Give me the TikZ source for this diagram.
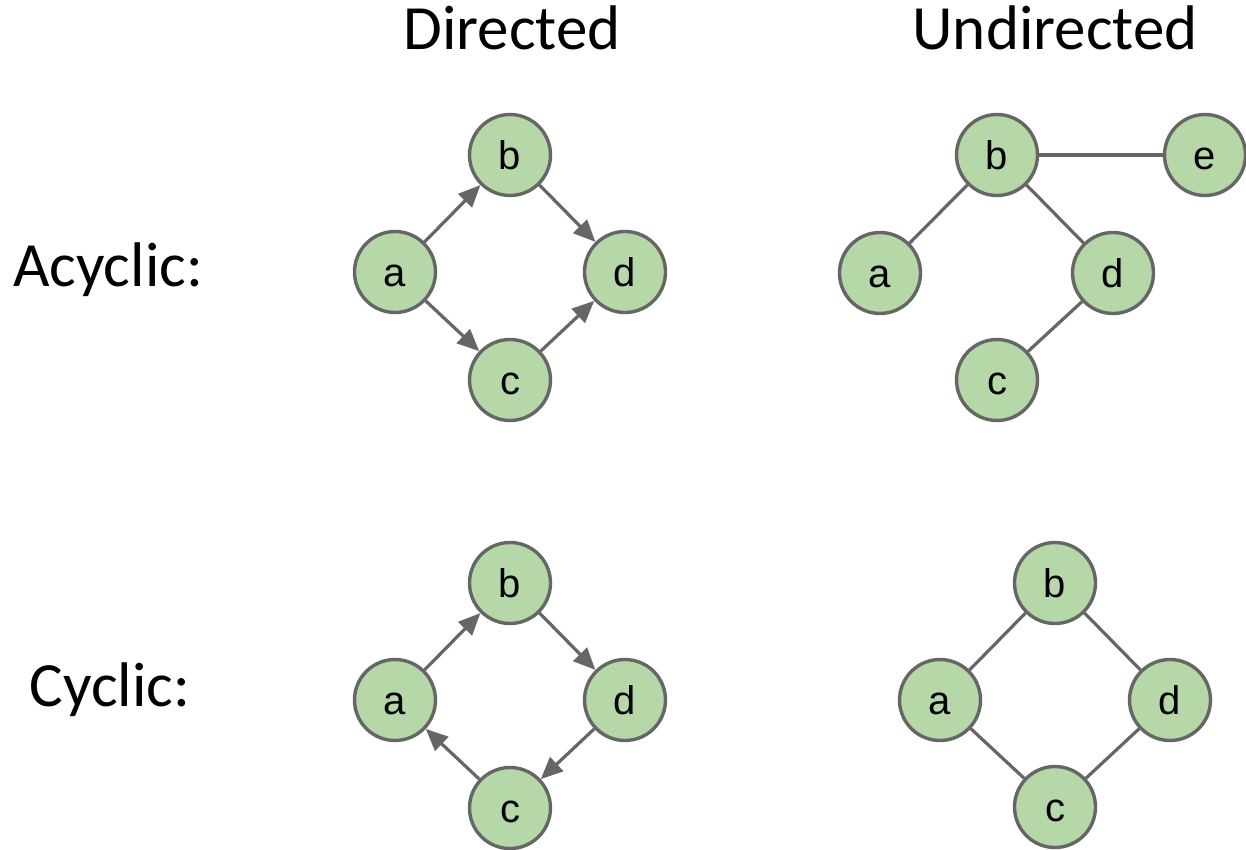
\documentclass[tikz,border=0pt]{standalone}
\usepackage{fontspec}
\setmainfont{Liberation Sans}
\newfontfamily\headfont{Carlito}
\usetikzlibrary{arrows.meta}
\definecolor{edgegray}{HTML}{666666}
\definecolor{nodegreen}{HTML}{B6D7A8}
\begin{document}
\begin{tikzpicture}[x=0.5pt,y=-0.5pt,
  vert/.style={circle,draw=edgegray,fill=nodegreen,line width=1.7pt,
    minimum size=40.5pt,inner sep=0pt,text height=14.4pt,text depth=0pt,
    font=\fontsize{20}{22}\selectfont},
  edge/.style={draw=edgegray,line width=1.6pt},
  arc/.style={edge,-{Triangle[length=11pt,width=9.5pt]}},
  head/.style={font=\headfont\fontsize{31.5}{36}\selectfont}]
\useasboundingbox (0,0) rectangle (1246,850);

% column and row headings
\node[head] (tdir) at (512,28) {Directed};
\node[head] (tund) at (1055,28) {Undirected};
\node[head] (racy) at (108,270) {Acyclic:};
\node[head] (rcyc) at (110,690) {Cyclic:};

% directed, acyclic
\node[vert] (da) at (395,272) {a};
\node[vert] (db) at (510,155) {b};
\node[vert] (dc) at (510,380) {c};
\node[vert] (dd) at (625,272) {d};
\draw[arc] (da) -- (db);
\draw[arc] (db) -- (dd);
\draw[arc] (da) -- (dc);
\draw[arc] (dc) -- (dd);

% undirected, acyclic
\node[vert] (ua) at (880,273) {a};
\node[vert] (ub) at (997,155) {b};
\node[vert] (uc) at (997,380) {c};
\node[vert] (ud) at (1113,273) {d};
\node[vert] (ue) at (1205,155) {e};
\draw[edge] (ub) -- (ue);
\draw[edge] (ub) -- (ua);
\draw[edge] (ub) -- (ud);
\draw[edge] (ud) -- (uc);

% directed, cyclic
\node[vert] (ca) at (395,700) {a};
\node[vert] (cb) at (510,583) {b};
\node[vert] (cc) at (510,808) {c};
\node[vert] (cd) at (625,700) {d};
\draw[arc] (ca) -- (cb);
\draw[arc] (cb) -- (cd);
\draw[arc] (cd) -- (cc);
\draw[arc] (cc) -- (ca);

% undirected, cyclic
\node[vert] (va) at (940,700) {a};
\node[vert] (vb) at (1055,583) {b};
\node[vert] (vc) at (1055,807) {c};
\node[vert] (vd) at (1170,700) {d};
\draw[edge] (vb) -- (va);
\draw[edge] (vb) -- (vd);
\draw[edge] (va) -- (vc);
\draw[edge] (vd) -- (vc);
\end{tikzpicture}
\end{document}
